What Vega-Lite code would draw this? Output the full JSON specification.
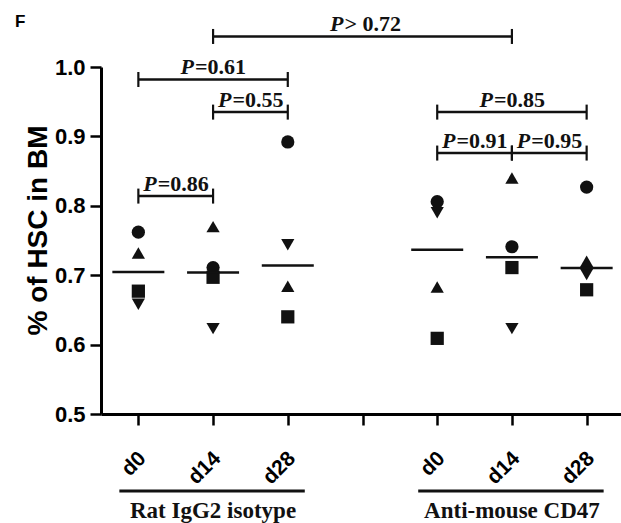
{
  "$schema": "https://vega.github.io/schema/vega-lite/v6.json",
  "width": 523,
  "height": 347,
  "autosize": {"type": "none"},
  "padding": {"left": 101, "top": 67, "right": 0, "bottom": 109},
  "background": "white",
  "title": {"text": "F", "anchor": "start", "frame": "group", "font": "Liberation Sans", "fontSize": 17, "fontWeight": "bold", "color": "black", "dx": -86, "offset": 0, "dy": 18},
  "config": {
    "view": {"stroke": null},
    "axis": {"domainColor": "black", "tickColor": "black", "labelColor": "black", "titleColor": "black", "grid": false}
  },
  "datasets": {
    "points": [
      {"treatment": "Rat IgG2 isotype", "day": "d0", "cat": "IgG2 d0", "mouse": "M1", "hsc": 0.762},
      {"treatment": "Rat IgG2 isotype", "day": "d0", "cat": "IgG2 d0", "mouse": "M2", "hsc": 0.732},
      {"treatment": "Rat IgG2 isotype", "day": "d0", "cat": "IgG2 d0", "mouse": "M3", "hsc": 0.658},
      {"treatment": "Rat IgG2 isotype", "day": "d0", "cat": "IgG2 d0", "mouse": "M4", "hsc": 0.677},
      {"treatment": "Rat IgG2 isotype", "day": "d14", "cat": "IgG2 d14", "mouse": "M1", "hsc": 0.711},
      {"treatment": "Rat IgG2 isotype", "day": "d14", "cat": "IgG2 d14", "mouse": "M2", "hsc": 0.770},
      {"treatment": "Rat IgG2 isotype", "day": "d14", "cat": "IgG2 d14", "mouse": "M3", "hsc": 0.623},
      {"treatment": "Rat IgG2 isotype", "day": "d14", "cat": "IgG2 d14", "mouse": "M4", "hsc": 0.697},
      {"treatment": "Rat IgG2 isotype", "day": "d28", "cat": "IgG2 d28", "mouse": "M1", "hsc": 0.892},
      {"treatment": "Rat IgG2 isotype", "day": "d28", "cat": "IgG2 d28", "mouse": "M2", "hsc": 0.684},
      {"treatment": "Rat IgG2 isotype", "day": "d28", "cat": "IgG2 d28", "mouse": "M3", "hsc": 0.744},
      {"treatment": "Rat IgG2 isotype", "day": "d28", "cat": "IgG2 d28", "mouse": "M4", "hsc": 0.640},
      {"treatment": "Anti-mouse CD47", "day": "d0", "cat": "CD47 d0", "mouse": "M1", "hsc": 0.806},
      {"treatment": "Anti-mouse CD47", "day": "d0", "cat": "CD47 d0", "mouse": "M2", "hsc": 0.683},
      {"treatment": "Anti-mouse CD47", "day": "d0", "cat": "CD47 d0", "mouse": "M3", "hsc": 0.790},
      {"treatment": "Anti-mouse CD47", "day": "d0", "cat": "CD47 d0", "mouse": "M4", "hsc": 0.609},
      {"treatment": "Anti-mouse CD47", "day": "d14", "cat": "CD47 d14", "mouse": "M1", "hsc": 0.741},
      {"treatment": "Anti-mouse CD47", "day": "d14", "cat": "CD47 d14", "mouse": "M2", "hsc": 0.840},
      {"treatment": "Anti-mouse CD47", "day": "d14", "cat": "CD47 d14", "mouse": "M3", "hsc": 0.623},
      {"treatment": "Anti-mouse CD47", "day": "d14", "cat": "CD47 d14", "mouse": "M4", "hsc": 0.711},
      {"treatment": "Anti-mouse CD47", "day": "d28", "cat": "CD47 d28", "mouse": "M1", "hsc": 0.827},
      {"treatment": "Anti-mouse CD47", "day": "d28", "cat": "CD47 d28", "mouse": "M2", "hsc": 0.720},
      {"treatment": "Anti-mouse CD47", "day": "d28", "cat": "CD47 d28", "mouse": "M3", "hsc": 0.701},
      {"treatment": "Anti-mouse CD47", "day": "d28", "cat": "CD47 d28", "mouse": "M4", "hsc": 0.679}
    ],
    "brackets": [
      {"from": "IgG2 d0", "to": "IgG2 d14", "mid": "IgG2 d0|d14", "level": 0.814, "label": "=0.86"},
      {"from": "IgG2 d0", "to": "IgG2 d28", "mid": "IgG2 d14", "level": 0.982, "label": "=0.61"},
      {"from": "IgG2 d14", "to": "IgG2 d28", "mid": "IgG2 d14|d28", "level": 0.935, "label": "=0.55"},
      {"from": "IgG2 d14", "to": "CD47 d14", "mid": "gap", "level": 1.044, "label": "\u2002> 0.72"},
      {"from": "CD47 d0", "to": "CD47 d28", "mid": "CD47 d14", "level": 0.935, "label": "=0.85"},
      {"from": "CD47 d0", "to": "CD47 d14", "mid": "CD47 d0|d14", "level": 0.876, "label": "=0.91"},
      {"from": "CD47 d14", "to": "CD47 d28", "mid": "CD47 d14|d28", "level": 0.876, "label": "=0.95"}
    ],
    "groups": [
      {"name": "Rat IgG2 isotype", "first": "IgG2 d0", "last": "IgG2 d28", "center": "IgG2 d14"},
      {"name": "Anti-mouse CD47", "first": "CD47 d0", "last": "CD47 d28", "center": "CD47 d14"}
    ]
  },
  "layer": [
    {
      "data": {"name": "points"},
      "mark": {"type": "point", "filled": true, "opacity": 1, "size": 175, "color": "#111111"},
      "encoding": {
        "x": {
          "field": "cat", "type": "nominal", "title": null,
          "scale": {"type": "point", "padding": 1, "domain": ["IgG2 d0", "IgG2 d0|d14", "IgG2 d14", "IgG2 d14|d28", "IgG2 d28", "m3", "gap", "m4", "CD47 d0", "CD47 d0|d14", "CD47 d14", "CD47 d14|d28", "CD47 d28"]},
          "axis": {
            "values": ["IgG2 d0", "IgG2 d14", "IgG2 d28", "gap", "CD47 d0", "CD47 d14", "CD47 d28"],
            "labelExpr": "indexof(datum.value, ' ') > 0 ? split(datum.value, ' ')[1] : ''",
            "labelAngle": -45, "labelAlign": "right", "labelBaseline": "middle",
            "labelFont": "Liberation Sans", "labelFontSize": 21, "labelFontWeight": "bold",
            "labelPadding": 30, "labelOffset": 4, "tickSize": 11, "tickWidth": 2.5, "domainWidth": 3
          }
        },
        "y": {
          "field": "hsc", "type": "quantitative", "title": "% of HSC in BM",
          "scale": {"domain": [0.5, 1.0], "nice": false, "zero": false},
          "axis": {
            "values": [0.5, 0.6, 0.7, 0.8, 0.9, 1.0], "format": ".1f",
            "labelFont": "Liberation Sans", "labelFontSize": 22, "labelFontWeight": "bold",
            "labelPadding": 5, "tickSize": 11, "tickWidth": 2.5, "domainWidth": 3,
            "titleFont": "Liberation Sans", "titleFontSize": 28, "titleFontWeight": "bold", "titlePadding": 2, "titleY": 163
          }
        },
        "shape": {
          "field": "mouse", "type": "nominal", "legend": null,
          "scale": {"domain": ["M1", "M2", "M3", "M4"], "range": ["circle", "triangle-up", "triangle-down", "square"]}
        }
      }
    },
    {
      "data": {"name": "points"},
      "mark": {"type": "tick", "orient": "horizontal", "size": 52, "thickness": 2.5, "color": "#111111", "opacity": 1},
      "encoding": {
        "x": {"field": "cat", "type": "nominal", "title": null},
        "y": {"field": "hsc", "aggregate": "median", "type": "quantitative", "title": "% of HSC in BM"}
      }
    },
    {
      "data": {"name": "brackets"},
      "mark": {"type": "rule", "strokeWidth": 2.5, "color": "#111111"},
      "encoding": {
        "x": {"field": "from", "type": "nominal", "title": null},
        "x2": {"field": "to"},
        "y": {"field": "level", "type": "quantitative", "title": "% of HSC in BM"}
      }
    },
    {
      "data": {"name": "brackets"},
      "transform": [{"fold": ["from", "to"], "as": ["end", "endcat"]}],
      "mark": {"type": "tick", "orient": "vertical", "size": 15, "thickness": 2.2, "color": "#111111", "opacity": 1},
      "encoding": {
        "x": {"field": "endcat", "type": "nominal", "title": null},
        "y": {"field": "level", "type": "quantitative", "title": "% of HSC in BM"}
      }
    },
    {
      "data": {"name": "brackets"},
      "mark": {"type": "text", "text": "P", "font": "Liberation Serif", "fontSize": 22, "fontWeight": "bold", "fontStyle": "italic", "align": "right", "baseline": "alphabetic", "dx": -19, "dy": -5, "color": "#111111"},
      "encoding": {
        "x": {"field": "mid", "type": "nominal", "title": null},
        "y": {"field": "level", "type": "quantitative", "title": "% of HSC in BM"}
      }
    },
    {
      "data": {"name": "brackets"},
      "mark": {"type": "text", "font": "Liberation Serif", "fontSize": 22, "fontWeight": "bold", "align": "left", "baseline": "alphabetic", "dx": -18, "dy": -5, "color": "#111111"},
      "encoding": {
        "x": {"field": "mid", "type": "nominal", "title": null},
        "y": {"field": "level", "type": "quantitative", "title": "% of HSC in BM"},
        "text": {"field": "label"}
      }
    },
    {
      "data": {"name": "groups"},
      "mark": {"type": "rule", "strokeWidth": 3, "color": "#111111", "xOffset": -19, "x2Offset": 17, "yOffset": 77},
      "encoding": {
        "x": {"field": "first", "type": "nominal", "title": null},
        "x2": {"field": "last"},
        "y": {"datum": 0.5, "type": "quantitative", "title": "% of HSC in BM"}
      }
    },
    {
      "data": {"name": "groups"},
      "mark": {"type": "text", "font": "Liberation Serif", "fontSize": 23, "fontWeight": "bold", "align": "center", "baseline": "alphabetic", "dy": 104, "color": "#111111"},
      "encoding": {
        "x": {"field": "center", "type": "nominal", "title": null},
        "y": {"datum": 0.5, "type": "quantitative", "title": "% of HSC in BM"},
        "text": {"field": "name"}
      }
    }
  ]
}
